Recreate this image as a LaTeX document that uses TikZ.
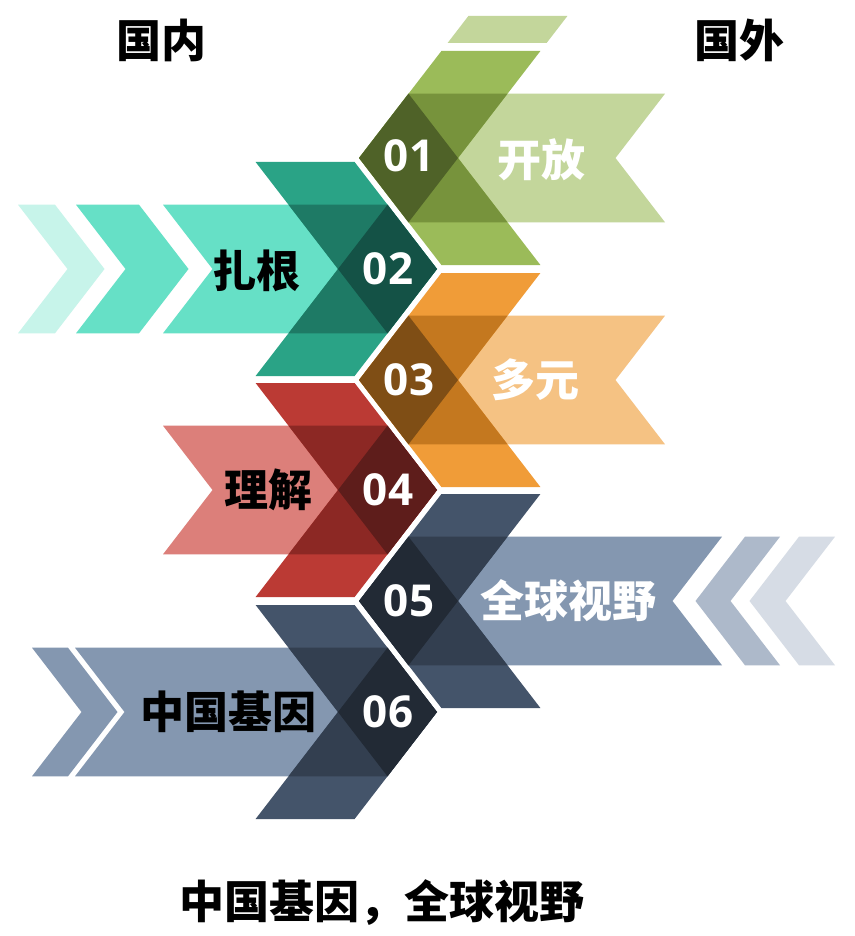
\documentclass[tikz,border=0pt]{standalone}
\usepackage{fontspec}
\newfontfamily\cjk{Noto Sans CJK SC}
\newfontfamily\numfont{Open Sans}
\definecolor{gBand}{HTML}{C3D69B}\definecolor{gMid}{HTML}{9BBB59}\definecolor{gDark}{HTML}{77933C}\definecolor{gDeep}{HTML}{4F6228}
\definecolor{tBand}{HTML}{66E0C6}\definecolor{tPale}{HTML}{C7F4EA}\definecolor{tMid}{HTML}{2AA386}\definecolor{tDark}{HTML}{1E7A65}\definecolor{tDeep}{HTML}{145246}
\definecolor{oBand}{HTML}{F5C283}\definecolor{oMid}{HTML}{F09C38}\definecolor{oDark}{HTML}{C4781F}\definecolor{oDeep}{HTML}{7F4E15}
\definecolor{rBand}{HTML}{DC7F7A}\definecolor{rMid}{HTML}{BB3A34}\definecolor{rDark}{HTML}{8C2824}\definecolor{rDeep}{HTML}{5E1D1B}
\definecolor{sBand}{HTML}{8497B0}\definecolor{sMid}{HTML}{44546A}\definecolor{sDark}{HTML}{333F50}\definecolor{sDeep}{HTML}{222A35}
\definecolor{sLightA}{HTML}{ADB9CA}\definecolor{sLightB}{HTML}{D6DCE5}
% chevron unit: tip at (#1,#2), direction #3 (1 = points right, -1 = points left)
\newcommand\drawunit[6]{%
  \begin{scope}[shift={(#1,#2)},xscale=#3]
    \fill[#4] (-181.4,-107) -- (-82.4,-107) -- (0,0) -- (-82.4,107) -- (-181.4,107) -- (-99,0) -- cycle;
    \fill[#5] (-148.5,-64.3) -- (-49.5,-64.3) -- (0,0) -- (-49.5,64.3) -- (-148.5,64.3) -- (-99,0) -- cycle;
    \fill[#6] (-99,0) -- (-49.5,-64.3) -- (0,0) -- (-49.5,64.3) -- cycle;
  \end{scope}}
% band behind a unit, length #4 from the tip, notched end
\newcommand\drawband[5]{%
  \begin{scope}[shift={(#1,#2)},xscale=#3]
    \fill[#5] (-#4,-64.3) -- (-49.5,-64.3) -- (-49.5,64.3) -- (-#4,64.3) -- ({-#4+49.5},0) -- cycle;
  \end{scope}}
% small chevrons in absolute coordinates: top edge from #1 to #2, centre height #3
\newcommand\chevright[4]{%
  \fill[#4] (#1,{#3-64.3}) -- (#2,{#3-64.3}) -- ({#2+49.5},#3) -- (#2,{#3+64.3}) -- (#1,{#3+64.3}) -- ({#1+49.5},#3) -- cycle;}
\newcommand\chevleft[4]{%
  \fill[#4] (#1,{#3-64.3}) -- (#2,{#3-64.3}) -- ({#2-49.5},#3) -- (#2,{#3+64.3}) -- (#1,{#3+64.3}) -- ({#1-49.5},#3) -- cycle;}
\begin{document}
\begin{tikzpicture}[x=1pt,y=-1pt,
  head/.style={font=\cjk\bfseries\fontsize{45}{45}\selectfont,text=black,inner sep=0pt},
  lblk/.style={font=\cjk\bfseries\fontsize{44}{44}\selectfont,text=black,inner sep=0pt},
  lblw/.style={font=\cjk\bfseries\fontsize{44}{44}\selectfont,text=white,inner sep=0pt},
  num/.style={font=\numfont\bfseries\fontsize{44}{44}\selectfont,text=white,inner sep=0pt}]
\useasboundingbox[fill=white] (0,0) rectangle (854,936);
% 01 (green, right side)
\fill[gBand] (447.6,43) -- (546.6,43) -- (567.4,16) -- (468.4,16) -- cycle;
\drawband{359}{158}{-1}{306}{gBand}
\drawunit{359}{158}{-1}{gMid}{gDark}{gDeep}
% 02 (teal, left side)
\chevright{18}{55}{269}{tPale}
\chevright{76}{139}{269}{tBand}
\drawband{437}{269}{1}{274}{tBand}
\drawunit{437}{269}{1}{tMid}{tDark}{tDeep}
% 03 (orange, right side)
\drawband{359}{380}{-1}{306}{oBand}
\drawunit{359}{380}{-1}{oMid}{oDark}{oDeep}
% 04 (red, left side)
\drawband{437}{490}{1}{274}{rBand}
\drawunit{437}{490}{1}{rMid}{rDark}{rDeep}
% 05 (slate, right side)
\chevleft{799}{835}{601}{sLightB}
\chevleft{745}{780}{601}{sLightA}
\drawband{359}{601}{-1}{363}{sBand}
\drawunit{359}{601}{-1}{sMid}{sDark}{sDeep}
% 06 (slate, left side)
\chevright{32}{68}{712}{sBand}
\drawband{437}{712}{1}{362}{sBand}
\drawunit{437}{712}{1}{sMid}{sDark}{sDeep}
% texts
\node[head] (hIn) at (161,40) {国内};
\node[head] (hOut) at (739,40) {国外};
\node[head] (title) at (382,903) {中国基因，全球视野};
\node[lblw] (l1) at (541,160) {开放};
\node[lblk] (l2) at (256,271) {扎根};
\node[lblw] (l3) at (535,380) {多元};
\node[lblk] (l4) at (268,490) {理解};
\node[lblw] (l5) at (568,601) {全球视野};
\node[lblk] (l6) at (228,712) {中国基因};
\node[num] (n1) at (409,156) {01};
\node[num] (n2) at (388,269) {02};
\node[num] (n3) at (409,380) {03};
\node[num] (n4) at (388,490) {04};
\node[num] (n5) at (409,601) {05};
\node[num] (n6) at (388,712) {06};
\end{tikzpicture}
\end{document}
